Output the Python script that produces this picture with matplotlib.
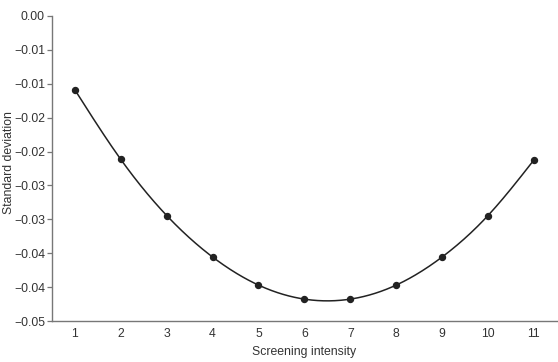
import matplotlib
matplotlib.use("Agg")
import matplotlib.pyplot as plt
import numpy as np

intensity = [1, 2, 3, 4, 5, 6, 7, 8, 9, 10, 11]
std_dev = [-0.0121, -0.0235, -0.0327, -0.0395, -0.0441, -0.0464,
           -0.0464, -0.0441, -0.0395, -0.0327, -0.0236]
y_ticks = np.linspace(0, -0.05, 10)
y_labels = ["0.00", "\u22120.01", "\u22120.01", "\u22120.02", "\u22120.02",
            "\u22120.03", "\u22120.03", "\u22120.04", "\u22120.04", "\u22120.05"]


def natural_spline(x, y, n=400):
    # plain natural cubic spline, only used to draw a smooth line
    x = np.asarray(x, float)
    y = np.asarray(y, float)
    k = len(x)
    h = np.diff(x)
    A = np.zeros((k, k))
    b = np.zeros(k)
    A[0, 0] = A[-1, -1] = 1
    for i in range(1, k - 1):
        A[i, i - 1] = h[i - 1]
        A[i, i] = 2 * (h[i - 1] + h[i])
        A[i, i + 1] = h[i]
        b[i] = 3 * ((y[i + 1] - y[i]) / h[i] - (y[i] - y[i - 1]) / h[i - 1])
    c = np.linalg.solve(A, b)
    xs = np.linspace(x[0], x[-1], n)
    idx = np.clip(np.searchsorted(x, xs) - 1, 0, k - 2)
    dx = xs - x[idx]
    bb = (y[idx + 1] - y[idx]) / h[idx] - h[idx] * (2 * c[idx] + c[idx + 1]) / 3
    dd = (c[idx + 1] - c[idx]) / (3 * h[idx])
    ys = y[idx] + bb * dx + c[idx] * dx ** 2 + dd * dx ** 3
    return xs, ys


def main():
    plt.rcParams['font.family'] = ['Liberation Sans', 'DejaVu Sans']
    fig = plt.figure(figsize=(5.58, 3.62), dpi=100)
    ax = fig.add_axes([0.093, 0.113, 0.905, 0.843])

    xs, ys = natural_spline(intensity, std_dev)
    ax.plot(xs, ys, color='#222222', lw=1.1)
    ax.plot(intensity, std_dev, 'o', color='#222222', ms=4.3)

    ax.set_xlim(0.5, 11.5)
    ax.set_ylim(-0.05, 0)
    ax.set_xticks(intensity)
    ax.set_yticks(y_ticks)
    ax.set_yticklabels(y_labels)

    for s in ['top', 'right']:
        ax.spines[s].set_visible(False)
    for s in ['left', 'bottom']:
        ax.spines[s].set_color('#777777')
        ax.spines[s].set_linewidth(1.0)
    ax.tick_params(axis='x', length=0, pad=5, labelsize=8.8, labelcolor='#333333')
    ax.tick_params(axis='y', length=3.5, width=0.9, color='#777777', pad=1.5,
                   labelsize=8.8, labelcolor='#333333')

    ax.set_xlabel('Screening intensity', fontsize=8.8, color='#333333', labelpad=4)
    ax.set_ylabel('Standard deviation', fontsize=8.8, color='#333333',
                  va='center')
    ax.yaxis.set_label_coords(-0.084, 0.52)

    plt.savefig('out.png', dpi=100)


if __name__ == "__main__":
    main()
